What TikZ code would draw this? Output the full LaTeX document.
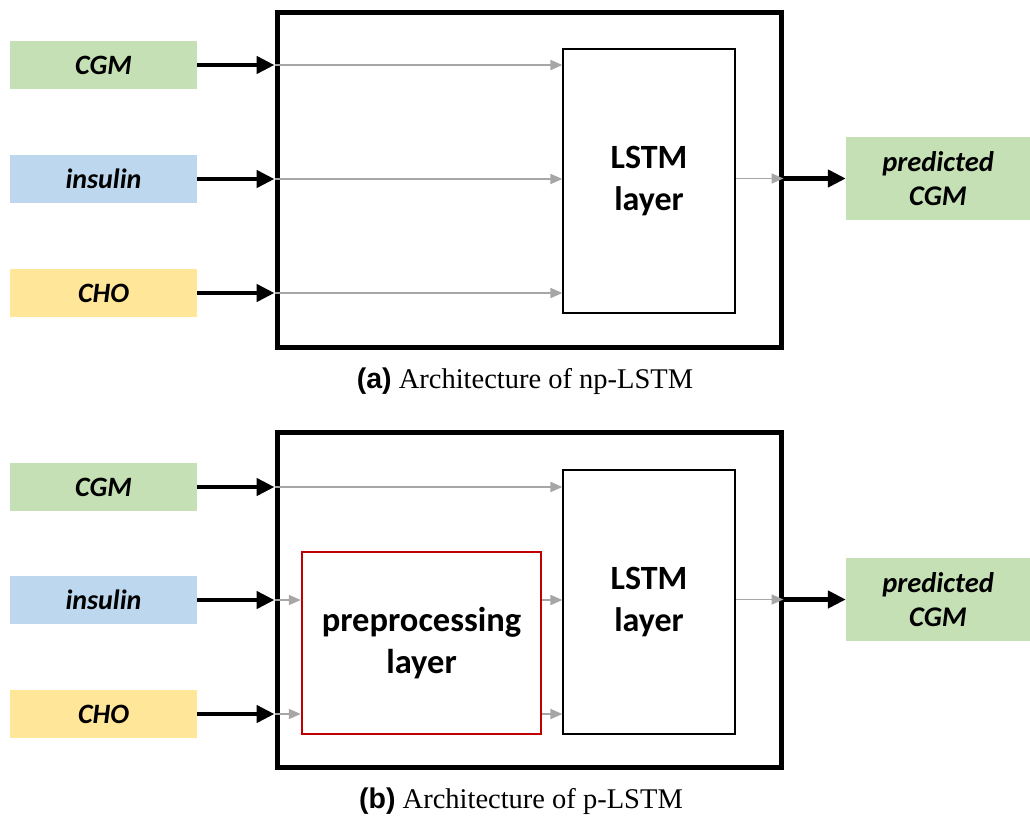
\documentclass[tikz,border=0pt]{standalone}
\usepackage{fontspec}
\setmainfont{Liberation Serif}
\newfontfamily\carlito{Carlito}
\newfontfamily\helv{Liberation Sans}
\usetikzlibrary{arrows.meta}
\definecolor{ingreen}{HTML}{C5E0B4}
\definecolor{inblue}{HTML}{BDD7EE}
\definecolor{inyellow}{HTML}{FFE699}
\definecolor{prered}{HTML}{C00000}
\definecolor{arrgray}{HTML}{A6A6A6}
\tikzset{
  inbox/.style={minimum width=187, minimum height=48, inner sep=0pt, font=\carlito\bfseries\itshape\fontsize{28}{32}\selectfont},
  outbox/.style={fill=ingreen, minimum width=184, minimum height=83, inner sep=0pt, align=center, font=\carlito\bfseries\itshape\fontsize{28.5}{34}\selectfont},
  bigbox/.style={draw=black, line width=5, minimum width=504, minimum height=335, inner sep=0pt},
  lstmbox/.style={draw=black, line width=1.2, fill=white, minimum width=172, minimum height=264, inner sep=0pt, align=center, font=\carlito\bfseries\fontsize{34}{42}\selectfont},
  prebox/.style={draw=prered, line width=2.5, minimum width=239, minimum height=182, inner sep=0pt, align=center, font=\carlito\bfseries\fontsize{34.5}{42}\selectfont},
  thick arrow/.style={line width=4.8, -{Triangle[length=18,width=17]}},
  gray arrow/.style={draw=arrgray, line width=1.8, -{Triangle[length=12,width=10]}},
  caption/.style={font=\fontsize{28.5}{32}\selectfont}
}
\begin{document}
\begin{tikzpicture}[x=1pt,y=-1pt]
\useasboundingbox (0,0) rectangle (1030,817);
% ---------- (a) ----------
\node[bigbox] (A) at (529,179.5) {};
\node[inbox, fill=ingreen] (aCGM) at (103.5,65) {CGM};
\node[inbox, fill=inblue] (aIns) at (103.5,179) {insulin};
\node[inbox, fill=inyellow] (aCHO) at (103.5,293) {CHO};
\node[lstmbox] (aL) at (649,181) {LSTM\\layer};
\node[outbox] (aOut) at (938,178.5) {predicted\\CGM};
\coordinate (aIn1) at (A.west |- aCGM);
\coordinate (aIn2) at (A.west |- aIns);
\coordinate (aIn3) at (A.west |- aCHO);
\coordinate (aO) at (A.east |- aOut);
\draw[thick arrow] (aCGM.east) -- (aIn1);
\draw[thick arrow] (aIns.east) -- (aIn2);
\draw[thick arrow] (aCHO.east) -- (aIn3);
\draw[gray arrow] (aIn1) -- (aL.west |- aIn1);
\draw[gray arrow] (aIn2) -- (aL.west |- aIn2);
\draw[gray arrow] (aIn3) -- (aL.west |- aIn3);
\draw[gray arrow] (aL.east |- aO) -- (aO);
\draw[thick arrow] (aO) -- (aOut.west);
\node[caption] (capA) at (525,381) {{\helv\bfseries (a)} Architecture of np-LSTM};
% ---------- (b) ----------
\node[bigbox] (B) at (529,600) {};
\node[inbox, fill=ingreen] (bCGM) at (103.5,487) {CGM};
\node[inbox, fill=inblue] (bIns) at (103.5,600) {insulin};
\node[inbox, fill=inyellow] (bCHO) at (103.5,714) {CHO};
\node[lstmbox] (bL) at (649,602) {LSTM\\layer};
\node[prebox] (bP) at (421.5,643) {preprocessing\\layer};
\node[outbox] (bOut) at (938,599.5) {predicted\\CGM};
\coordinate (bIn1) at (B.west |- bCGM);
\coordinate (bIn2) at (B.west |- bIns);
\coordinate (bIn3) at (B.west |- bCHO);
\coordinate (bO) at (B.east |- bOut);
\draw[thick arrow] (bCGM.east) -- (bIn1);
\draw[thick arrow] (bIns.east) -- (bIn2);
\draw[thick arrow] (bCHO.east) -- (bIn3);
\draw[gray arrow] (bIn1) -- (bL.west |- bIn1);
\draw[gray arrow] (bIn2) -- (bP.west |- bIn2);
\draw[gray arrow] (bIn3) -- (bP.west |- bIn3);
\draw[gray arrow] (bP.east |- bIn2) -- (bL.west |- bIn2);
\draw[gray arrow] (bP.east |- bIn3) -- (bL.west |- bIn3);
\draw[gray arrow] (bL.east |- bO) -- (bO);
\draw[thick arrow] (bO) -- (bOut.west);
\node[caption] (capB) at (521,801) {{\helv\bfseries (b)} Architecture of p-LSTM};
\end{tikzpicture}
\end{document}
